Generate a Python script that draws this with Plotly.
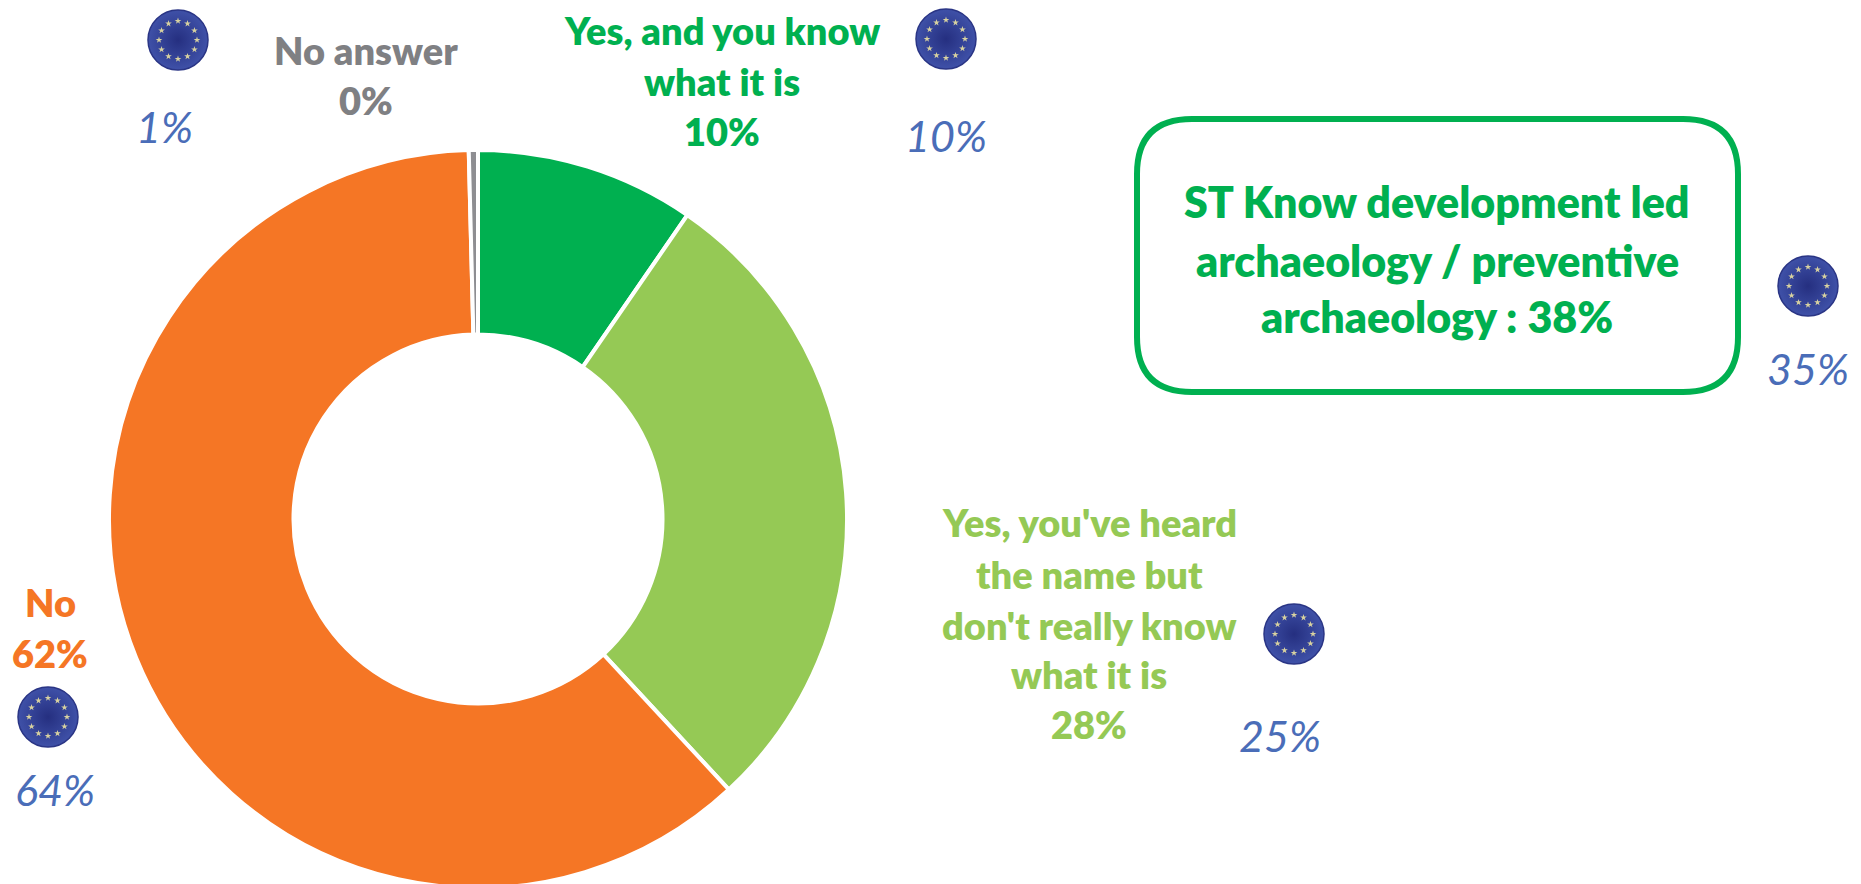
import plotly.graph_objects as go
import math

W, H = 1861, 892
FONT = "Lato"

categories = ["Yes, and you know what it is", "Yes, you've heard the name but don't really know what it is", "No", "No answer"]
values = [9.6, 28.5, 61.5, 0.4]
colors = ["#00B050", "#95C955", "#F57625", "#8E8E92"]

label_blocks = [
    (["No answer", "0%"], 366, [50, 100], "#7F8083"),
    (["Yes, and you know", "what it is", "10%"], 722, [30, 81, 131], "#00B050"),
    (["Yes, you've heard", "the name but", "don't really know", "what it is", "28%"], 1089, [522, 574, 625, 674, 724], "#95C955"),
    (["No", "62%"], 50, [602, 653], "#F57625"),
]
box_lines = ["ST Know development led", "archaeology / preventive", "archaeology : 38%"]
box_y = [201, 260, 316]
eu_labels = ["1%", "10%", "35%", "25%", "64%"]
eu_label_x = [164, 946, 1808, 1280, 55]
eu_label_y = [126, 135, 368, 735, 789]
icon_x = [178, 946, 1808, 1294, 48]
icon_y = [40, 39, 286, 634, 717]

fig = go.Figure()
fig.add_trace(go.Pie(
    values=values, labels=categories, sort=False, direction="clockwise", rotation=0,
    hole=0.5, textinfo="none", hoverinfo="label+percent", showlegend=False,
    marker=dict(colors=colors, line=dict(color="white", width=4)),
    domain=dict(x=[109 / W, 847 / W], y=[(H - 888) / H, (H - 150) / H]),
))

# EU icons: blue disc with a ring of twelve small stars
fig.add_trace(go.Scatter(
    x=icon_x, y=icon_y, mode="markers", hoverinfo="skip", showlegend=False,
    marker=dict(size=60, color="#3F51A8", line=dict(color="#2A3585", width=1.5),
                gradient=dict(type="radial", color="#252F80")),
))
star_x, star_y = [], []
for cx, cy in zip(icon_x, icon_y):
    for k in range(12):
        a = math.radians(30 * k)
        star_x.append(cx + 19 * math.cos(a))
        star_y.append(cy + 19 * math.sin(a))
fig.add_trace(go.Scatter(
    x=star_x, y=star_y, mode="markers", hoverinfo="skip", showlegend=False,
    marker=dict(size=5, symbol="star", color="#D8D2A0"),
))

anns = []
for lines, x, ys, col in label_blocks:
    for t, y in zip(lines, ys):
        anns.append(dict(x=x, y=y, text=t, font=dict(color=col, size=38, family=FONT, weight=800)))
for t, y in zip(box_lines, box_y):
    anns.append(dict(x=1437, y=y, text=t, font=dict(color="#00B050", size=43, family=FONT, weight=800)))
for t, x, y in zip(eu_labels, eu_label_x, eu_label_y):
    anns.append(dict(x=x, y=y, text=f"<i>{t}</i>", font=dict(color="#4A6DB8", size=43, family=FONT)))
for a in anns:
    a.update(xref="x", yref="y", showarrow=False, xanchor="center", yanchor="middle")

x0, x1, y0, y1, r = 1137, 1738, 119, 392, 55
box_path = (f"M {x0+r} {y0} L {x1-r} {y0} Q {x1} {y0} {x1} {y0+r} L {x1} {y1-r} Q {x1} {y1} {x1-r} {y1} "
            f"L {x0+r} {y1} Q {x0} {y1} {x0} {y1-r} L {x0} {y0+r} Q {x0} {y0} {x0+r} {y0} Z")

fig.update_layout(
    width=W, height=H, margin=dict(l=0, r=0, t=0, b=0, pad=0, autoexpand=False),
    paper_bgcolor="white", plot_bgcolor="rgba(0,0,0,0)", showlegend=False,
    xaxis=dict(range=[0, W], visible=False, fixedrange=True, domain=[0, 1]),
    yaxis=dict(range=[H, 0], visible=False, fixedrange=True, domain=[0, 1]),
    annotations=anns,
    shapes=[dict(type="path", path=box_path, xref="x", yref="y",
                 line=dict(color="#00B050", width=6), fillcolor="rgba(0,0,0,0)")],
)

fig.write_html("out.html", config=dict(displayModeBar=False),
               post_script="document.body.style.margin='0';document.body.style.overflow='hidden';document.documentElement.style.overflow='hidden';")
